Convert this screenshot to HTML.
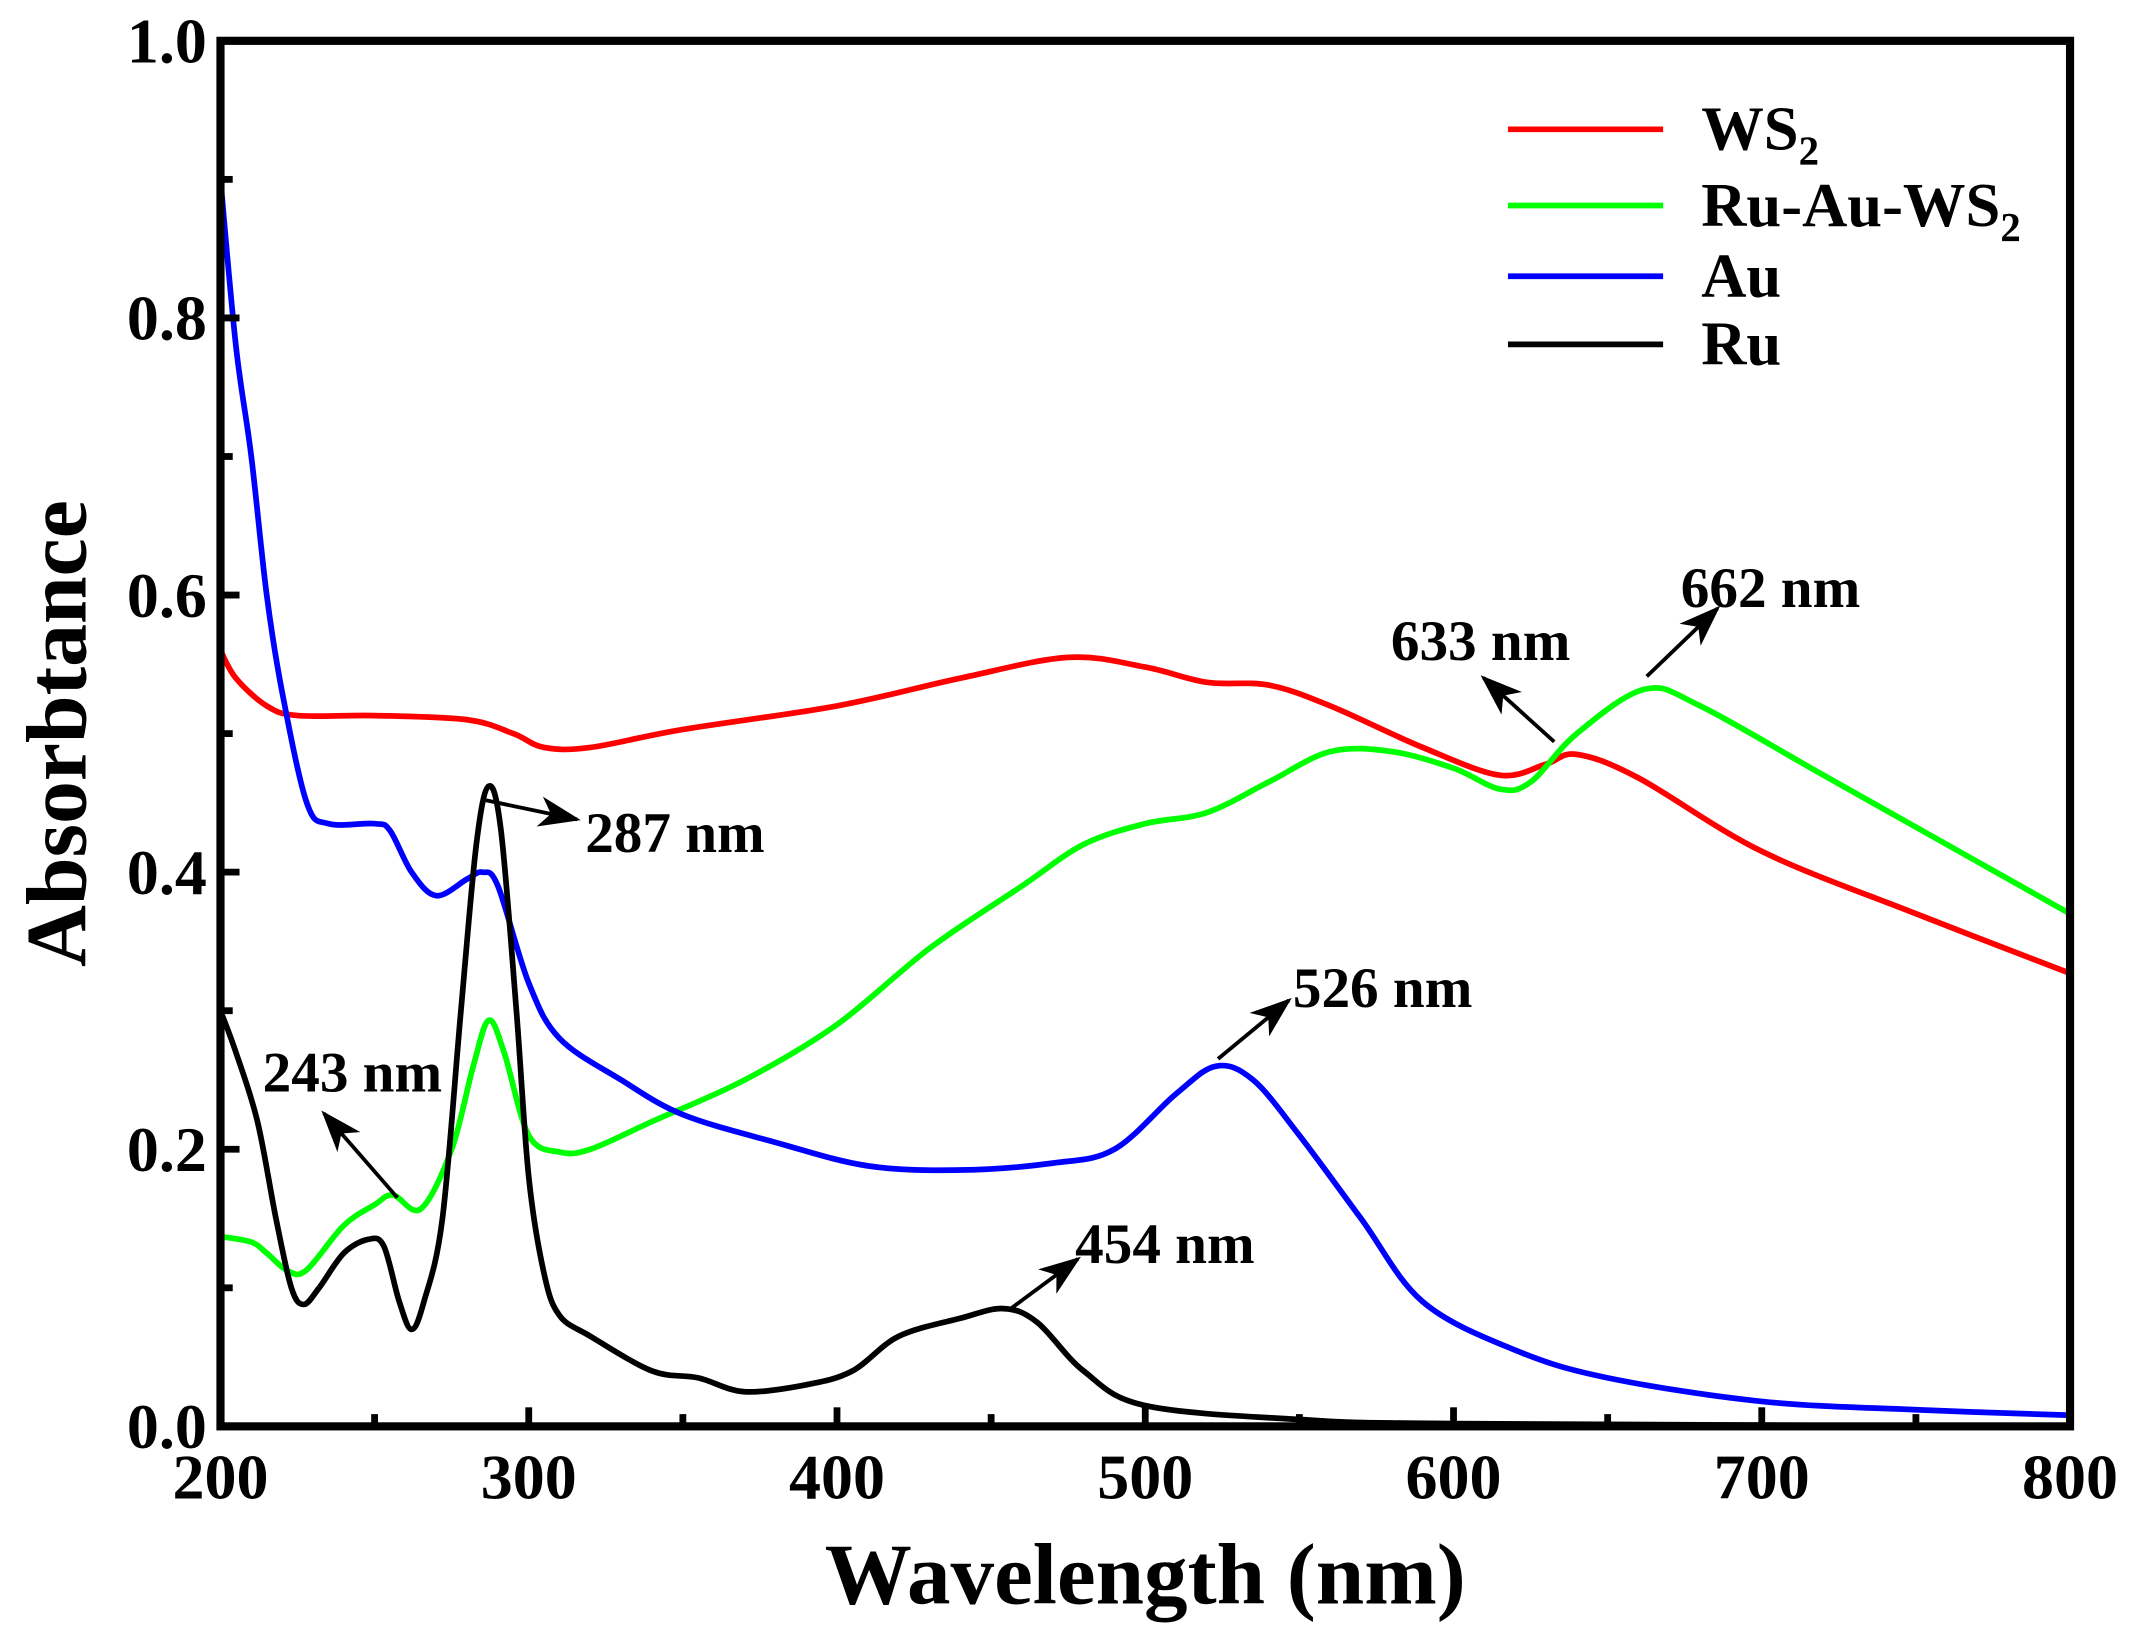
<!DOCTYPE html>
<html><head><meta charset="utf-8"><style>
html,body{margin:0;padding:0;background:#fff;}
svg{display:block;}
text{font-family:"Liberation Serif",serif;font-weight:bold;fill:#000;}
</style></head><body>
<svg id="chart" width="2134" height="1641" viewBox="0 0 1568 1205.7" preserveAspectRatio="none" xmlns="http://www.w3.org/2000/svg">
<g id="plot"></g>
</svg>
<script>
const xTicks = [200,300,400,500,600,700,800];
const yTicks = [0.0,0.2,0.4,0.6,0.8,1.0];
const yTickLabels = ["0.0","0.2","0.4","0.6","0.8","1.0"];
const seriesNames = ["WS2","Ru-Au-WS2","Au","Ru"];
const seriesColors = ["#ff0000","#00ff00","#0000ff","#000000"];
const ws2X = [200,205,215,225,250,280,295,305,320,350,400,440,475,500,520,540,560,590,615,630,640,660,700,750,800];
const ws2Y = [0.56,0.54,0.52,0.513,0.513,0.51,0.50,0.49,0.49,0.503,0.52,0.54,0.555,0.548,0.537,0.535,0.52,0.49,0.47,0.478,0.485,0.468,0.415,0.37,0.327];
const rawsX = [200,210,215,222,228,240,250,256,265,275,282,287,292,300,310,320,340,370,400,430,460,480,500,520,540,560,580,600,615,625,640,662,680,720,760,800];
const rawsY = [0.137,0.133,0.125,0.112,0.113,0.145,0.16,0.167,0.157,0.20,0.26,0.293,0.27,0.21,0.198,0.20,0.22,0.25,0.29,0.345,0.39,0.42,0.435,0.443,0.465,0.487,0.487,0.475,0.46,0.465,0.50,0.532,0.52,0.47,0.42,0.37];
const auX = [200,205,210,215,220,228,235,250,255,262,270,280,285,290,300,310,330,350,380,410,440,470,490,510,523,535,550,570,590,620,650,700,750,800];
const auY = [0.9,0.78,0.7,0.6,0.53,0.45,0.435,0.435,0.43,0.4,0.383,0.395,0.4,0.39,0.32,0.28,0.25,0.225,0.205,0.188,0.185,0.19,0.2,0.24,0.26,0.25,0.21,0.15,0.09,0.055,0.035,0.018,0.012,0.008];
const ruX = [200,205,212,218,223,227,232,240,248,253,258,262,266,272,278,283,287,291,296,300,305,310,320,340,355,370,390,405,420,440,454,465,480,500,550,600,800];
const ruY = [0.30,0.27,0.22,0.15,0.10,0.088,0.10,0.125,0.135,0.13,0.09,0.07,0.09,0.15,0.30,0.42,0.462,0.43,0.30,0.18,0.11,0.08,0.065,0.04,0.035,0.025,0.03,0.04,0.065,0.078,0.085,0.075,0.04,0.015,0.005,0.002,0.0];
const allX = [ws2X, rawsX, auX, ruX];
const allY = [ws2Y, rawsY, auY, ruY];

const X0=162, X1=1521, Y0=1048, Y1=30;
function sx(v){return X0+(v-200)/600*(X1-X0);}
function sy(v){return Y0-(v-0)/1.0*(Y0-Y1);}
const NS="http://www.w3.org/2000/svg";
const g=document.getElementById('plot');
function mk(tag,attrs,parent){const e=document.createElementNS(NS,tag);for(const k in attrs)e.setAttribute(k,attrs[k]);(parent||g).appendChild(e);return e;}

function pathFrom(xs,ys){
  const p=xs.map((x,i)=>[sx(x),sy(ys[i])]);
  let d="M"+p[0][0]+","+p[0][1];
  for(let i=0;i<p.length-1;i++){
    const p0=p[i-1]||p[i],p1=p[i],p2=p[i+1],p3=p[i+2]||p2;
    const c1=[p1[0]+(p2[0]-p0[0])/6,p1[1]+(p2[1]-p0[1])/6];
    const c2=[p2[0]-(p3[0]-p1[0])/6,p2[1]-(p3[1]-p1[1])/6];
    d+=" C"+c1[0]+","+c1[1]+" "+c2[0]+","+c2[1]+" "+p2[0]+","+p2[1];
  }
  return d;
}
const clip=mk('clipPath',{id:'cp'});
mk('rect',{x:X0,y:Y1,width:X1-X0,height:Y0-Y1},clip);
[0,1,2,3].forEach(i=>{
  const p=mk('path',{d:pathFrom(allX[i],allY[i]),fill:'none',stroke:seriesColors[i],'stroke-width':4.2,'clip-path':'url(#cp)','stroke-linejoin':'round'});
  
  
});

const fr=mk('rect',{x:X0,y:Y1,width:X1-X0,height:Y0-Y1,fill:'none',stroke:'#000','stroke-width':6});



for(let v=200;v<=800;v+=50){
  const major=(v%100===0);
  const t=mk('line',{x1:sx(v),x2:sx(v),y1:Y0,y2:Y0-(major?14:9),stroke:'#000','stroke-width':5});
  
  
}
xTicks.forEach(v=>{
  const t=mk('text',{x:sx(v),y:Y0+53,'font-size':47,'text-anchor':'middle'});
  t.textContent=v;
  
  
});
for(let k=0;k<=10;k++){
  const v=k/10, major=(k%2===0);
  const t=mk('line',{x1:X0,x2:X0+(major?14:9),y1:sy(v),y2:sy(v),stroke:'#000','stroke-width':5});
  
  
}
yTicks.forEach((v,i)=>{
  const t=mk('text',{x:X0-10,y:sy(v)+16,'font-size':47,'text-anchor':'end'});
  t.textContent=yTickLabels[i];
  
  
});
const xt=mk('text',{x:(X0+X1)/2,y:1178,'font-size':64,'text-anchor':'middle'});
xt.textContent='Wavelength (nm)';


const yt=mk('text',{x:0,y:0,'font-size':63,'text-anchor':'middle',transform:'translate(63,539) rotate(-90)'});
yt.textContent='Absorbtance';



const legY=[95,151,203,253];
const legLabels=[['WS','2'],['Ru-Au-WS','2'],['Au',''],['Ru','']];
legY.forEach((y,i)=>{
  const l=mk('line',{x1:1108,x2:1222,y1:y,y2:y,stroke:seriesColors[i],'stroke-width':4.2});
  
  
  const t=mk('text',{x:1250,y:y+15,'font-size':46});
  
  
  t.appendChild(document.createTextNode(legLabels[i][0]));
  if(legLabels[i][1]){const s=mk('tspan',{'font-size':30,dy:11},t);s.textContent=legLabels[i][1];}
});

const annText=['287 nm','243 nm','454 nm','526 nm','633 nm','662 nm'];
const annTX=[430,193,790,950,1022,1235];
const annTY=[626,802,928,740,485,446];
const arrows=[[357,588,424,602],[292,880,238,818],[742,962,792,925],[895,778,947,735],[1142,545,1090,498],[1210,497,1262,447]];
const defs=mk('defs',{});
const mkr=mk('marker',{id:'ah',markerWidth:11,markerHeight:8,refX:10,refY:4,orient:'auto',markerUnits:'strokeWidth'},defs);
mk('path',{d:'M0,0 L11,4 L0,8 L3,4 Z',fill:'#000'},mkr);
annText.forEach((s,i)=>{
  const a=arrows[i];
  const l=mk('line',{x1:a[0],y1:a[1],x2:a[2],y2:a[3],stroke:'#000','stroke-width':2.8,'marker-end':'url(#ah)'});
  
  
  const t=mk('text',{x:annTX[i],y:annTY[i],'font-size':42});
  t.textContent=s;
  
  
});
</script>
</body></html>
